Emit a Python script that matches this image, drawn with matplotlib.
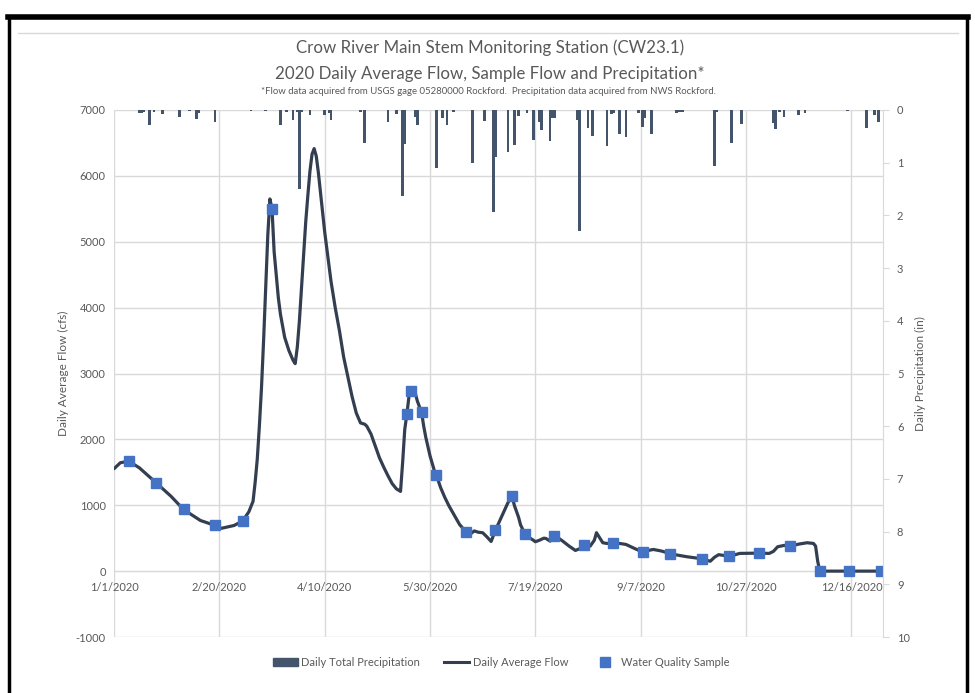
import numpy as np
import pandas as pd
import matplotlib
matplotlib.use("Agg")
import matplotlib.pyplot as plt
from matplotlib.lines import Line2D
from matplotlib.patches import Patch

plt.rcParams["font.family"] = ["Lato", "DejaVu Sans"]

YEAR_START = np.datetime64("2020-01-01")

# Daily average flow (cfs), by day of year (0 = Jan 1)
flow_day = [0, 3, 7, 12, 20, 27, 33, 41, 48, 51, 57, 61, 64, 66, 67, 68, 69, 70,
            71, 72, 73, 74, 75, 76, 77, 78, 79, 81, 83, 85, 86, 87, 88, 89, 90,
            91, 92, 93, 94, 95, 96, 97, 98, 99, 100, 101, 102, 103, 105, 107,
            109, 111, 113, 115, 117, 119, 120, 122, 124, 126, 128, 130, 132, 134,
            136, 137, 138, 139, 140, 141, 142, 143, 144, 146, 147, 148, 150, 152,
            153, 155, 157, 159, 162, 164, 167, 168, 169, 171, 173, 175, 177, 179,
            181, 183, 185, 187, 189, 190, 192, 193, 195, 197, 199, 200, 202, 204,
            205, 207, 209, 211, 213, 216, 219, 221, 223, 226, 228, 229, 231, 232,
            234, 237, 240, 243, 247, 251, 253, 256, 260, 264, 268, 272, 276, 279,
            282, 283, 285, 287, 290, 292, 297, 302, 306, 311, 313, 315, 318, 321,
            325, 329, 332, 333, 334, 335, 365]
flow_cfs = [1554, 1645, 1669, 1569, 1341, 1138, 936, 769, 693, 650, 693, 759, 900,
            1060, 1350, 1700, 2200, 2780, 3500, 4300, 5100, 5650, 5500, 4850, 4500,
            4150, 3900, 3550, 3350, 3200, 3150, 3400, 3800, 4300, 4800, 5300, 5700,
            6070, 6330, 6414, 6300, 6050, 5750, 5450, 5150, 4900, 4650, 4400, 4000,
            3650, 3250, 2950, 2650, 2400, 2250, 2230, 2200, 2080, 1900, 1720, 1580,
            1450, 1330, 1250, 1210, 1650, 2150, 2382, 2650, 2727, 2745, 2700, 2580,
            2408, 2200, 2030, 1750, 1530, 1457, 1270, 1120, 990, 820, 709, 598, 540,
            560, 610, 590, 583, 520, 450, 618, 760, 900, 1040, 1134, 1000, 820, 700,
            568, 510, 470, 446, 470, 500, 496, 455, 531, 500, 455, 380, 314, 340, 395,
            379, 470, 583, 480, 431, 420, 425, 420, 405, 345, 288, 310, 329, 304, 264,
            240, 218, 200, 188, 160, 150, 210, 250, 235, 223, 269, 271, 273, 269, 300,
            370, 390, 379, 410, 431, 420, 380, 150, 0, 0]

# Water quality sample flows (cfs)
sample_day = [7, 20, 33, 48, 61, 75, 139, 141, 146, 153, 167, 181, 189, 195, 209,
              223, 237, 251, 264, 279, 292, 306, 321, 335, 349, 364]
sample_cfs = [1669, 1341, 936, 693, 759, 5500, 2382, 2727, 2408, 1457, 598, 618,
              1134, 568, 531, 395, 425, 288, 264, 188, 223, 273, 379, 0, 0, 0]

# Daily total precipitation (in)
precip_day = [12, 13, 14, 17, 19, 23, 31, 36, 39, 40, 48, 65, 72, 79, 82, 85, 87,
              88, 89, 93, 100, 102, 103, 117, 119, 130, 134, 137, 138, 143, 144,
              153, 156, 158, 161, 170, 176, 180, 181, 187, 190, 192, 196, 199, 202,
              203, 207, 208, 209, 220, 221, 225, 227, 234, 236, 237, 240, 243, 249,
              251, 252, 255, 267, 268, 269, 270, 285, 286, 293, 298, 313, 314, 316,
              318, 325, 328, 348, 357, 361, 363]
precip_in = [0.06, 0.06, 0.03, 0.28, 0.04, 0.08, 0.14, 0.02, 0.18, 0.06, 0.22, 0.02,
             0.02, 0.28, 0.04, 0.19, 0.04, 1.49, 0.04, 0.09, 0.09, 0.06, 0.19, 0.04,
             0.63, 0.22, 0.07, 1.64, 0.65, 0.13, 0.28, 1.11, 0.15, 0.28, 0.03, 1.01,
             0.21, 1.93, 0.90, 0.79, 0.66, 0.11, 0.05, 0.56, 0.22, 0.38, 0.59, 0.16,
             0.16, 0.19, 2.30, 0.35, 0.49, 0.68, 0.08, 0.06, 0.46, 0.52, 0.06, 0.32,
             0.16, 0.46, 0.06, 0.03, 0.03, 0.03, 1.07, 0.04, 0.63, 0.27, 0.25, 0.36,
             0.03, 0.13, 0.09, 0.06, 0.02, 0.35, 0.09, 0.22]

x_tick_labels = ["1/1/2020", "2/20/2020", "4/10/2020", "5/30/2020", "7/19/2020",
                 "9/7/2020", "10/27/2020", "12/16/2020"]
flow_ticks = list(range(-1000, 7001, 1000))
precip_ticks = list(range(0, 11))

title_lines = ["Crow River Main Stem Monitoring Station (CW23.1)",
               "2020 Daily Average Flow, Sample Flow and Precipitation*"]
note = ("*Flow data acquired from USGS gage 05280000 Rockford.  "
        "Precipitation data acquired from NWS Rockford.")


def to_dates(days):
    return YEAR_START + np.array(days).astype("timedelta64[D]")


TEXT = "#595959"
GRID = "#D9D9D9"
BAR = "#44546A"
LINE = "#333F50"
MARK = "#4472C4"

W, H = 975, 693
fig = plt.figure(figsize=(W / 100, H / 100), dpi=100)
L, R, T, B = 114, 883, 110, 637
ax = fig.add_axes([L / W, 1 - B / H, (R - L) / W, (B - T) / H])

ax.plot(to_dates(flow_day), flow_cfs, color=LINE, lw=2.3, zorder=3,
        solid_capstyle="round", solid_joinstyle="round")
ax.plot(to_dates(sample_day), sample_cfs, ls="none", marker="s", ms=6.5,
        color=MARK, zorder=4)

ax.set_ylim(-1000, 7000)
ax.set_yticks(flow_ticks)
ax.set_yticklabels([str(v) for v in flow_ticks])
ax.set_xlim(np.datetime64("2020-01-01"), np.datetime64("2020-12-31"))
tick_dates = pd.to_datetime(x_tick_labels, format="%m/%d/%Y")
ax.set_xticks(tick_dates)
ax.set_xticklabels(x_tick_labels)
ax.grid(True, color=GRID, lw=1.0)
ax.set_axisbelow(True)
for s in ["top", "left", "right"]:
    ax.spines[s].set_visible(False)
ax.spines["bottom"].set_position(("data", 0))
ax.spines["bottom"].set_color(GRID)
ax.tick_params(axis="both", length=0, colors=TEXT, labelsize=8)
ax.tick_params(axis="y", pad=6)
ax.tick_params(axis="x", pad=8)
ax.set_ylabel("Daily Average Flow (cfs)", color=TEXT, fontsize=8.5, labelpad=5)

ax2 = ax.twinx()
ax2.bar(to_dates(precip_day), precip_in, width=1.3, color=BAR, zorder=2)
ax2.set_ylim(10, 0)
ax2.set_yticks(precip_ticks)
ax2.set_yticklabels([str(v) for v in precip_ticks])
for s in ["top", "left", "bottom"]:
    ax2.spines[s].set_visible(False)
ax2.spines["right"].set_color(GRID)
ax2.tick_params(axis="y", length=4, color=GRID, labelcolor=TEXT, labelsize=8, pad=6)
ax2.set_ylabel("Daily Precipitation (in)", color=TEXT, fontsize=8.5,
               rotation=90, labelpad=4)

fig.text(490 / W, 1 - 48 / H, title_lines[0], ha="center", va="center",
         color=TEXT, fontsize=12.2)
fig.text(490 / W, 1 - 74 / H, title_lines[1], ha="center", va="center",
         color=TEXT, fontsize=12.2)
fig.text(488 / W, 1 - 91 / H, note, ha="center", va="center",
         color=TEXT, fontsize=6.9)

handles = [Patch(facecolor=BAR, edgecolor=BAR),
           Line2D([], [], color=LINE, lw=2.2),
           Line2D([], [], ls="none", marker="s", ms=6.5, color=MARK)]
labels = ["Daily Total Precipitation", "Daily Average Flow", "Water Quality Sample"]
fig.legend(handles, labels, loc="center", bbox_to_anchor=(501 / W, 1 - 662 / H),
           ncol=3, frameon=False, fontsize=8, labelcolor=TEXT,
           handlelength=2.25, handleheight=0.7, handletextpad=0.3,
           columnspacing=2.2)

# outer frame
for (x0, y0, x1, y1, lw, c) in [(8, 17, 968, 17, 4, "black"),
                                (9, 17, 9, 693, 2.5, "black"),
                                (967, 17, 967, 693, 2.5, "black"),
                                (18, 33, 958, 33, 1, GRID)]:
    fig.add_artist(Line2D([x0 / W, x1 / W], [1 - y0 / H, 1 - y1 / H],
                          transform=fig.transFigure, color=c, lw=lw))

fig.savefig("out.png", dpi=100)
